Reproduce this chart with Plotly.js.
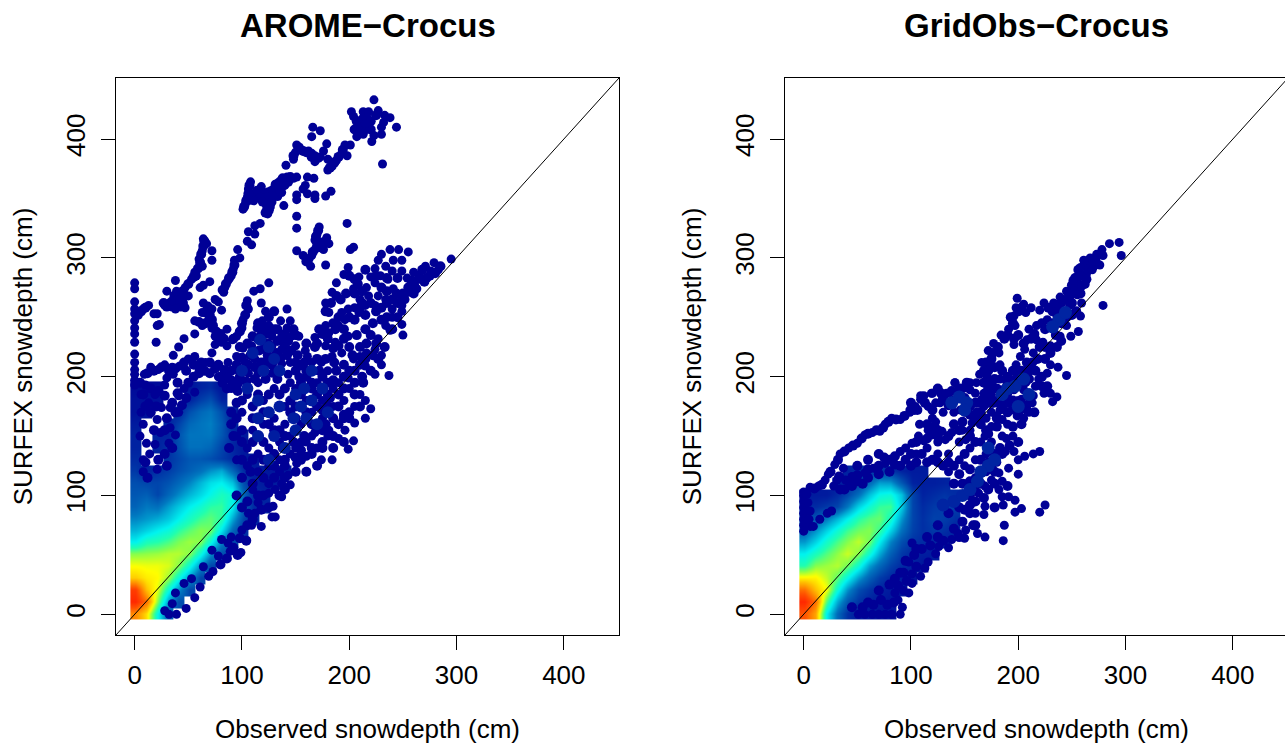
<!DOCTYPE html>
<html><head><meta charset="utf-8">
<script src="https://cdn.plot.ly/plotly-3.0.1.min.js"></script>
<style>html,body{margin:0;padding:0;background:#fff;overflow:hidden;width:1285px;height:744px}#c{width:1300px;height:744px}</style>
</head><body><div id="c"></div>
<script>
const _ = null;
const tickValues = [0,100,200,300,400];
const panelTitles = ["AROME\u2212Crocus","GridObs\u2212Crocus"];
const xLabel = "Observed snowdepth (cm)";
const yLabel = "SURFEX snowdepth (cm)";
const densityColumns = [1,11,21,31,41,51,61,71,81,91,101,111,121,131,141,151];
const densityRows = [1,11,21,31,41,51,61,71,81,91,101,111,121,131,141,151,161,171,181,191];
const aromeDensity = [
[10,8.5,5.2,2.2],
[12,10.5,7,3.6,2],
[11.5,9,7.8,5.4,3.4,1.8],
[8.8,8.3,8.1,7.2,5.4,3.6,1.8],
[8,7.9,7.9,7.7,7,5.4,3.4,1.8],
[7,7.1,7.2,7.4,7.4,7,5.4,3.4,2],
[5,5.8,6,6.4,6.9,7.2,7,5.4,3.2,1.8],
[4,4.5,5,5.4,6.1,6.6,7,6.8,4.8,2.6,1.3],
[3.2,3.5,3.8,4.3,5,5.7,6.3,6.6,6.1,3.8,1.8,1.1],
[2.5,3,2.8,3.6,4.3,5,5.5,6.1,6.2,5,2.4,1.2,1],
[2.2,2.4,1.8,2.6,3.3,4,4.6,5.2,5.8,5.4,2.6,1.2,1],
[2,1.8,1.8,2.1,2.6,3.2,4,4.7,5,4.2,2,1,0.8,0.8],
[1.5,1,1.3,1.6,2,2.4,2.8,3.4,3.8,2.6,1.2,0.8,0.7,0.7,0.7],
[1.2,_,_,1.4,1.8,2.2,2.2,2,1.6,1.2,0.7,0.7],
[1,_,1,1.3,2,2.8,2.8,2.6,1.8,1.1,0.7],
[1,_,1,1,2.1,2.9,2.9,3,2.2,1.2,0.7],
[0.8,_,_,1,1.7,2.6,2.9,3.1,2.3,1],
[0.5,0.5,_,_,1,2,2.6,2.9,2,0.8],
[0.5,0.5,0.5,_,_,1,1.6,2,1],
[0.3,0.3,0.3,_,_,0.6,1,1.2,0.6]
];
const gridobsDensity = [
[11,9.5,5,2.6,1.3,0.8,0.6,0.5,0.5],
[12,10.5,6.5,3.8,2.2,1.4,1,0.8,0.6],
[10.5,9,8,5.4,3.4,2,1.4,1,0.8,0.6],
[8.2,8.2,7.5,6.6,5.2,3.6,2.4,1.6,1.1,0.9,0.6],
[6,7,7.2,7.4,6.8,5.5,3.6,2.6,1.7,1.2,1,0.6],
[5,5.8,6.5,7.1,7.6,7,5.5,3.8,2.4,1.5,1.1,0.9,0.8],
[3.5,4.5,5.6,6.4,7,7.5,6.8,5,3.2,2,1.4,1.2,1.1,0.9],
[2.5,3.4,4.5,5.5,6.3,6.8,7,6.2,4.5,2.8,1.7,1.3,1.5,1.3,1],
[1.8,2.2,3,4,5,6,6.5,6.7,5.7,3.5,1.8,1.3,1.7,1.6,1.3],
[1.2,1.2,1.5,1.8,3,4.5,5.5,6.2,6.3,4.4,1.8,1.2,1.5,1.7,1.6],
[0.8,0.8,0.8,1.2,1.8,2.8,4.2,5.2,5.4,4.2,1.8,1,1.2,1.4,1.2],
[_,_,_,0.8,1.2,1.6,2.6,3.6,3.5,2.2,1,0.9,0.9,1],
[_,_,_,_,1,1.2,1.3,1.5,1.4,1,0.8,0.8]
];
const aromeDots = [
[223,433],[213,423],[202,423],[204,419],[218,423],[227,424],[233,420],[238,418],[244,410],[212,417],[215,413],[210,406],[207,402],[213,404],[221,398],[230,404],[232,414],[223,403],[230,410],[231,379],
[201,395],[196,395],[193,388],[188,382],[184,377],[180,374],[198,386],[166,410],[173,407],[165,402],[179,396],[176,390],[151,395],[150,389],[148,383],[155,391],[162,390],[168,386],[165,388],[168,381],[173,385],[180,383],[141,378],
[142,368],[136,365],[131,362],[148,367],[140,361],[137,355],[139,344],[151,368],[161,368],[167,367],[159,361],[157,358],[151,353],[151,349],[161,354],[168,353],[168,350],[178,352],[183,356],
[108,364],[106,358],[105,351],[101,341],[103,345],[109,352],[118,360],[114,357],[117,351],[123,351],[129,352],[128,347],[119,347],[111,348],[123,341],[124,337],[151,335],[151,325],[198,329],
[172,326],[170,320],[168,315],[179,317],[181,312],[176,307],[168,307],[165,302],[164,293],[157,302],[151,306],[178,294],[204,309],[201,307],[117,329],[112,327],[106,322],[112,320],[105,314],[109,311],[96,307],
[98,300],[93,298],[92,291],[90,285],[87,281],[84,275],[83,271],[125,279],[64,316],[67,312],[63,306],[72,306],[60,299],[72,298],[63,293],[56,288],[53,282],[70,280],[64,277],[61,275],[38,281],[30,272],[39,272],[47,275],[50,268],[35,264],[42,265],[28,260],[47,258],[38,257],[21,253],[18,253],[13,260],[8,257],[4,254],
[0,279],[0,274],[0,263],[0,257],[0,253],[0,247],[0,241],[0,236],[0,229],[0,219],[0,212],[0,206],[0,202],[0,197],
[75,265],[78,263],[64,262],[72,257],[81,256],[63,254],[69,248],[56,247],[63,243],[72,241],[75,234],[86,240],[81,229],[75,227],[86,226],[56,236],[46,232],[21,243],[23,244],[20,229],[41,225],[36,218],[56,217],[50,215],[72,220],[66,212],[60,207],[42,209],[35,208],[28,210],[22,206],[15,208],[9,202],[36,202],[30,199],
[111,272],[117,274],[105,264],[106,257],[101,248],[100,241],[95,234],[91,231],[118,262],[122,255],[142,257],
[119,247],[114,241],[120,240],[125,243],[136,247],[145,247],[142,241],[146,234],[137,234],[153,234],[128,234],[115,231],[109,226],[101,224],[95,217],[87,212],[83,206],[78,200],[119,223],[128,226],[137,223],[150,226],[112,215],[103,212],[94,206],[87,200],[122,213],[131,215],[145,212],[137,211],[128,203],[106,203],[115,203],[159,222],[161,217],[168,233],[154,209],[143,202],[153,200],[165,212],[174,212],[184,217],[193,220],[178,226],[187,229],[199,234],[181,237],[190,243],[178,243],[196,248],[193,254],[181,254],[199,257],[178,262],[184,271],[188,279],[195,286],[199,292],[209,284],[204,274],[220,284],[216,275],[224,279],[210,265],[205,258],[218,268],[215,260],[209,254],[227,268],[224,260],[234,265],[236,282],[241,274],[248,268],[249,260],[240,257],[224,291],[227,298],[230,303],[238,307],[246,307],[255,305],[234,293],[229,285],[249,298],[241,298],[249,289],[240,289],[254,283],[260,288],[266,282],[271,293],[279,296],[283,290],[276,289],[295,299],[261,277],[255,271],[263,274],[252,265],[249,255],
[240,250],[249,244],[234,243],[238,239],[250,235],[227,232],[224,223],[216,220],[210,217],[230,218],[230,210],[215,209],[224,202],[237,201],[204,215],[199,199],
[220,173],[215,165],[205,161],[196,155],[204,146],[199,139],[184,130],[174,130],[190,148],[181,155],[168,153],[160,133],[151,127],[143,117],[145,109],[137,99],[129,91],[131,82],[118,74],[109,75],[100,71],[90,65],[99,52],[89,53],[87,60],[73,36],[69,32],[61,23],[56,14],[48,5],[39,0],[32,0],[38,18],[53,30],[46,26],[28,3],[35,9],[72,54],[78,49],[64,40],[81,63],[106,85],[115,94],[128,82],[112,85],[137,110],[125,102],[131,105],
[95,130],[95,150],[105,140],[105,125],[115,135],[115,120],[125,125],[125,140],[135,130],[135,145],[145,135],[145,150],[155,145],[155,160],[165,150],[165,170],[175,165],[175,180],[185,175],[185,190],[195,180],[100,170],[110,155],[120,160],[130,165],[140,175],[150,190],[160,180],[170,195],[180,205],[190,195],[200,190],[205,175],[210,185],[215,180],[120,180],[105,185],[115,195],[130,190],[145,195],[90,190],[100,205],[125,110],[110,105],[135,120],[150,140],[160,145],[170,140],[180,150],[140,160],
[0,193],[10,193],[28,193],[19,185],[13,178],[25,174],[33,174],[21,164],[41,170],[24,153],[33,157],[38,151],[11,144],[19,143],[32,144],[14,135],[8,120],[21,122],[46,190],[41,184],[56,187],[6,170],[6,185],[8,160],[5,150],[8,130]
];
const aromeFill = [
[207,415],[210,412],[216,418],[220,415],[225,420],[208,410],[212,409],[205,408],[215,408],[218,410],[220,408],[190,385],[186,380],[182,376],[194,391],[153,393],[157,390],[160,389],[165,385],[171,384],[148,386],
[134,363],[138,367],[145,368],[134,358],[130,358],[137,360],[143,364],[127,356],[124,355],[120,354],[133,352],[126,350],[107,361],[106,354],[104,348],[102,343],[108,349],[112,354],[116,354],[120,350],[125,349],[123,345],[126,343],[122,338],[125,340],
[171,323],[169,318],[172,312],[175,313],[170,310],[166,305],[173,309],[162,299],[160,297],[178,314],
[65,314],[64,310],[62,303],[61,296],[59,291],[57,285],[55,284],[50,278],[45,272],[42,270],[37,268],[33,262],[30,259],[27,262],[40,262],[45,262],[35,259],[43,259],[38,265],[46,268],
[93,294],[91,288],[88,283],[85,278],[82,273],[10,258],[6,255],[3,252],[104,260],[103,252],[100,245],[98,238],[92,232],
[68,259],[70,252],[72,248],[73,243],[76,238],[78,233],[80,236],[83,232],[66,254],[60,246],[66,245],[46,212],[38,207],[32,205],[25,208],[18,205],[12,203],
[118,243],[122,236],[126,240],[130,240],[133,230],[140,236],[143,230],[148,240],[110,234],[118,235],[124,228],[132,220],[140,228],[146,222],[108,218],[116,222],[124,218],[100,216],[95,210],[106,210],[112,208],[120,208],[128,210],[136,216],[142,218],[152,218],[90,205],[98,200],[104,196],[112,198],[122,198],[133,198],[140,190],[150,205],[158,212],[82,195],[90,197],[96,194],
[175,236],[180,232],[185,224],[190,226],[195,232],[185,245],[190,250],[200,250],[205,248],[210,258],[212,262],[215,252],[220,262],[225,255],[230,258],[235,262],[240,265],[245,262],[255,275],[258,281],[265,285],[275,285],[280,287],[270,280],[268,290],[260,270],[250,270],[244,270],[235,272],[230,275],[225,285],[212,272],[208,278],[205,282],[200,285],[197,270],[192,265],[188,268],[183,262],[178,255],[172,240],[168,225],[170,215],[178,215],[186,212],[195,210],[203,218],[210,225],[216,228],[222,218],
[165,190],[172,205],[180,195],[188,205],[195,190],[205,195],[212,200],[175,172],[182,182],[195,168],[205,185],[213,195],[220,205],[227,215],[233,225],[240,240],[245,250],[150,175],[160,200],[145,170],
[140,125],[150,132],[155,138],[165,140],[175,145],[185,150],[190,160],[200,170],[210,175],[140,105],[130,115],[120,100],[135,100],[125,90],[115,100],[105,95],[100,90],[110,110],[95,100],[100,115],[108,120],[120,130],[130,135],[138,140],[148,145],[158,150],[170,158],[178,160],[195,165],[185,165],
[40,195],[50,195],[55,200],[65,205],[75,207],[85,200],[95,178],[95,165],[92,150],[88,140],
[5,195],[8,185],[15,190],[22,188],[28,184],[35,178],[38,170],[30,165],[20,175],[15,170],[10,175],[28,155],[18,155],[28,135],[22,130],[10,128],[12,115],[30,125],[35,140],
[55,210],[62,212],[70,212],[78,210],[85,205],[48,205],[92,195],[96,188],[60,203],[70,203],[80,200],[86,190],[48,182],[44,176],[40,186],
[100,130],[110,130],[120,115],[130,125],[140,115],[150,120],[155,130],[165,135],[175,140],[185,140],[195,145],[90,170],[100,155],[110,165],[120,170],[130,155],[140,150],[150,165],[160,170],[170,175],[180,185],[190,175],[200,165],[100,180],[110,175],[125,185],[135,185],[145,180],[155,195],[165,195],[175,200],[185,197],[195,200],[205,205],[215,215],[225,228],[150,212],[160,228],[170,228],[178,236],[187,240],[195,240],[200,225],[207,235],[215,240],[222,245],[230,248],[125,250],[130,255],[140,225],[118,212],[105,228],[98,225],[115,245],[133,240],[150,235],[160,205],[170,185],[180,175],[190,185],[200,205],[210,210],[115,185],[125,160],[135,155],[140,130],[110,145],[120,145],[100,145],[90,160],[160,120],[170,125],[175,155],[165,160],[155,185],[235,250],[220,235],[205,270],[215,290],[235,283],[245,283],[260,280],[272,283],[285,293],
[80,42],[86,47],[92,56],[98,64],[105,75],[110,80],[118,88],[96,50],[104,62]
];
const aromeMid = [[117,231],[125,225],[110,220],[130,215],[100,205],[120,205],[135,205],[105,190],[115,180],[150,185],[158,190],[165,180],[155,175],[165,205],[175,190],[148,165],[160,165],[170,160],[180,170],[135,175],[125,170],[115,165],[130,150],[115,150],[140,140],[150,155],[125,130]];
const gridobsDots = [
[0,103],[6,107],[14,108],[20,113],[23,118],[29,126],[34,135],[42,140],[50,144],[57,151],[64,153],[71,154],[76,160],[82,165],[90,164],[99,170],[109,181],[120,186],[112,184],[104,175],[141,195],[135,186],[129,180],[123,178],[108,160],[123,162],
[0,100],[0,95],[0,90],[0,85],[0,80],[0,75],[0,70],[3,101],[4,94],[6,87],[5,80],[6,74],[9,74],[15,80],[22,85],[26,87],
[37,123],[31,113],[28,108],[39,113],[45,116],[57,119],[65,123],[76,127],[90,137],[95,140],[101,144],[107,150],[116,155],[129,154],[112,146],[120,151],[132,147],[138,153],[148,155],[151,147],[157,161],[163,164],[175,170],[182,178],[194,172],[203,181],[213,178],[189,148],[175,158],[185,164],[169,150],[166,181],[160,186],[172,195],[185,189],[197,195],[207,195],[155,195],[169,183],
[220,137],[214,135],[206,133],[196,137],[200,130],[188,137],[200,118],[191,123],[185,112],[182,105],[185,99],[191,99],[197,96],[203,89],[197,86],[186,92],[220,86],[225,92],[169,91],[168,84],[187,75],[186,62],[162,68],[169,65],[150,64],[135,56],[151,71],[144,68],[123,51],[116,44],[109,32],[113,39],[126,57],[101,26],[98,18],[92,6],[90,0],[82,0],[76,0],[70,0],[64,0],[57,0],[51,0],[88,12],[85,18],[93,20],[101,34],[98,44],[101,60],[138,63],[160,85],[157,94],[163,102],[169,108],[175,113],[182,119],
[294,313],[285,312],[296,302],[279,260],[278,307],[273,303],[279,302],[267,300],[261,298],[269,290],[276,294],[258,292],[256,285],[264,282],[251,281],[259,276],[255,269],[245,272],[239,267],[259,262],[258,251],[248,260],[233,262],[224,262],[220,256],[199,266],[205,261],[212,258],[207,254],[198,258],[196,251],[197,243],[191,240],[184,235],[177,228],[196,227],[202,217],[206,223],[210,240],[217,243],[227,248],[236,251],[245,243],[256,238],[249,234],[239,234],[230,226],[217,231],[208,231],[214,220],[223,229],[182,220],[172,222],[166,212],[183,210],[198,210],[175,209],[164,202],[171,200],[161,195],[230,210],[237,208],[245,201],[227,203],[219,198],[208,206],[199,200],[183,198],[230,186],[236,183],[232,179],[224,186],[214,184],[210,178],[216,192],[205,189],[196,189],[189,192],[183,184],[196,175],[141,195],[146,184],[155,189],[168,186],[168,175],[133,186],[119,186],[109,184],[99,172],[127,178],[116,175],[146,172],[161,170],[183,172],[199,167],[180,167],
[150,110],[150,125],[160,115],[160,130],[170,120],[170,135],[180,128],[165,145],[155,140],[145,130],[145,145],[135,135],[135,120],[125,135],[125,145],[115,140],[105,135],[175,145],[185,150],[190,160],[195,150],[205,165],[210,170],[200,180],[190,185],[180,180],[170,165],[160,165],[150,170],[140,170],[130,170],[120,165],[155,155],[175,185]
];
const gridobsFill = [
[262,295],[265,295],[270,297],[272,298],[260,285],[263,286],[256,290],[253,283],[250,277],[256,278],[262,278],[252,272],[248,268],[245,265],[240,262],[236,258],[232,255],[228,258],[250,252],[254,255],[240,245],[232,245],[225,240],[222,245],[215,236],[212,232],[205,228],[200,235],[195,245],[193,250],[200,255],[203,258],[190,235],[187,232],[196,232],[181,225],[176,220],[170,212],[168,205],[172,205],[175,215],[178,208],[220,225],[225,215],[230,220],[236,225],[240,230],[213,212],[208,212],[203,205],[195,205],[190,200],[185,205],[178,198],[172,190],[168,195],[222,200],[216,205],[210,198],[227,192],[222,192],[202,195],[196,197],[190,178],[177,178],[172,178],[163,178],[155,175],[148,190],[152,195],[125,190],[128,186],[113,178],[106,172],[100,178],[120,172],[135,176],[140,180],[122,158],[115,160],[125,155],[140,160],[148,162],[155,168],[165,160],[172,152],[180,158],[195,158],[203,160],[208,172],[215,170],[200,145],[192,142],[183,140],[178,135],[172,128],[165,130],[155,122],[160,108],[172,105],[178,110],[168,98],[160,95],[150,88],[158,75],[148,78],[140,72],[130,62],[125,65],[110,55],[103,50],[118,58],[96,28],[88,24],[84,10],[78,8],[72,12],[65,8],[60,10],[55,6],[45,6],[93,35],[85,30],[105,40],
[10,106],[17,109],[25,120],[32,130],[38,137],[46,142],[54,148],[60,152],[68,155],[74,157],[79,162],[86,164],[94,167],[103,172],[80,130],[85,133],[70,125],[60,122],[50,117],[42,112],[33,116],[34,105],[38,105],[45,108],[55,110],[60,130],[70,135],[50,125],
[100,125],[110,135],[120,130],[130,125],[140,125],[150,135],[160,145],[170,155],[180,165],[190,170],[200,170],[145,155],[135,150],[125,150],[115,148],[105,145],[155,150],[165,170],[175,178],[185,175],[195,180],[205,175],[100,135],[90,125],[80,120],[70,118],[60,115],[50,112],[150,182],[145,190],[130,182],[138,188],[160,178],[175,195],[180,190],[190,195],[200,200],[210,205],[218,215],[225,225],[235,235],[245,250],[250,262],[258,270],[265,290],[270,293],[185,135],[175,125],[165,110],[155,100],[145,90],[135,85],[125,75],[115,65],[105,55],[95,45],[90,35],[80,25],[70,20],[155,85],[145,65],[160,75],[178,90],[190,108],[178,120],
[75,132],[85,126],[95,130],[105,128],[115,128],[125,128],[135,128],[145,118],[150,100],[155,92],[140,110],[148,110],[155,112]
];
const gridobsMid = [[145,183],[138,178],[152,178],[172,125],[165,120],[178,130],[197,192],[190,190],[205,198],[210,185],[238,248],[232,242],[244,254],[140,95],[148,100],[130,92],[155,105],[162,112],[150,172],[185,185],[200,175],[172,140]];
const colorStops = [[0,"#000096"],[0.08,"#0020A0"],[0.17,"#0050B0"],[0.25,"#0078C0"],[0.33,"#00B4D8"],[0.42,"#00F4F0"],[0.5,"#20FFB0"],[0.58,"#80FF50"],[0.67,"#FFFF00"],[0.75,"#FFC000"],[0.83,"#FF8C00"],[0.92,"#FF5000"],[1,"#FF2800"]];

const W=1300,H=744;
function axis(dom,anchor,title,isY){
  return {domain:dom,anchor:anchor,range:[-17.4,451.4],autorange:false,tickmode:"array",tickvals:tickValues,ticktext:tickValues.map(String),
    ticks:"outside",ticklen:14,tickwidth:1,tickcolor:"#000",showline:true,mirror:true,linecolor:"#000",linewidth:1,showgrid:false,zeroline:false,
    tickfont:{size:26,color:"#000"},tickangle:isY?-90:0,automargin:false,ticklabelstandoff:isY?6:3,
    title:{text:title,font:{size:26,color:"#000"},standoff:isY?20:30}};
}
function col(a,i){return a.map(p=>p[i]);}
function pad(z){return densityRows.map((_r,j)=>densityColumns.map((_c,i)=>{const r=z[j]; return r&&r[i]!==undefined?r[i]:null;}));}
function heat(z,xa,ya){return {type:"heatmap",z:pad(z),x:densityColumns,y:densityRows,xaxis:xa,yaxis:ya,zmin:0,zmax:12,colorscale:colorStops,zsmooth:"best",showscale:false,hoverinfo:"skip"};}
function dots(a,xa,ya,color,size){return {type:"scatter",mode:"markers",x:col(a,0),y:col(a,1),xaxis:xa,yaxis:ya,marker:{color:color,size:size,line:{width:0}},hoverinfo:"skip"};}
function diag(xa,ya){return {type:"scatter",mode:"lines",x:[-18,452],y:[-18,452],xaxis:xa,yaxis:ya,line:{color:"#000",width:1},hoverinfo:"skip"};}
const data=[
 heat(aromeDensity,"x","y"),dots(aromeFill,"x","y","#000096",10),dots(aromeDots,"x","y","#000096",9),dots(aromeMid,"x","y","#001CA0",12),diag("x","y"),
 heat(gridobsDensity,"x2","y2"),dots(gridobsFill,"x2","y2","#000096",10),dots(gridobsDots,"x2","y2","#000096",9),dots(gridobsMid,"x2","y2","#0024A2",13),diag("x2","y2")
];
const yd=[(744-635)/H,(744-78)/H];
const layout={width:W,height:H,margin:{l:0,r:0,t:0,b:0},paper_bgcolor:"#fff",plot_bgcolor:"#fff",showlegend:false,
 font:{family:"'Liberation Sans',Arial,sans-serif",color:"#000"},
 xaxis:axis([116/W,619/W],"y",xLabel,false),yaxis:axis(yd,"x",yLabel,true),
 xaxis2:axis([785/W,1288/W],"y2",xLabel,false),yaxis2:axis(yd,"x2",yLabel,true),
 annotations:[
  {text:"<b>"+panelTitles[0]+"</b>",xref:"paper",yref:"paper",x:367.5/W,y:(744-26)/H,xanchor:"center",yanchor:"middle",showarrow:false,font:{size:33,color:"#000"}},
  {text:"<b>"+panelTitles[1]+"</b>",xref:"paper",yref:"paper",x:1036.5/W,y:(744-26)/H,xanchor:"center",yanchor:"middle",showarrow:false,font:{size:33,color:"#000"}}
 ]};
Plotly.newPlot("c",data,layout,{staticPlot:true,displayModeBar:false});
</script></body></html>
